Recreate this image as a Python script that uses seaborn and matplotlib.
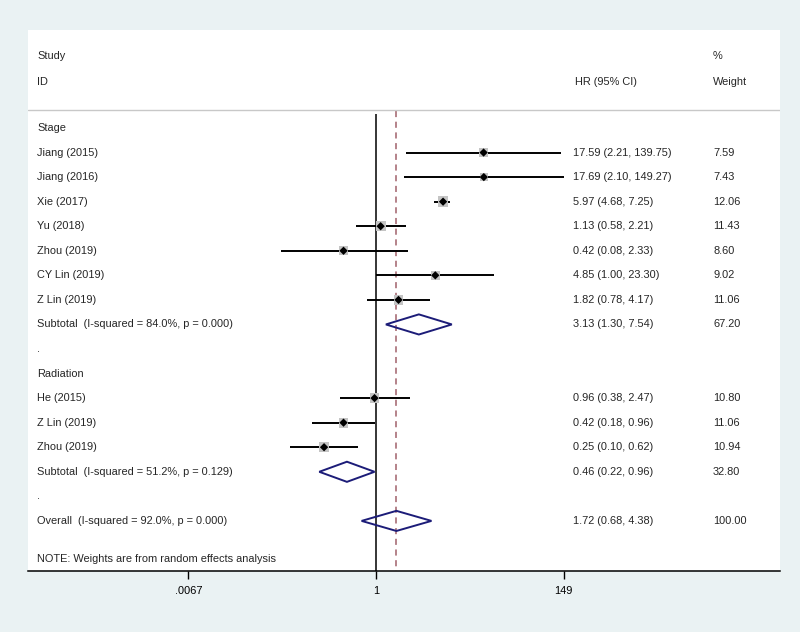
import matplotlib
matplotlib.use("Agg")
import matplotlib.pyplot as plt
import seaborn as sns
import numpy as np
import pandas as pd
from matplotlib.patches import Polygon

# ---- data ----
labels = ["Stage", "Jiang (2015)", "Jiang (2016)", "Xie (2017)", "Yu (2018)",
          "Zhou (2019)", "CY Lin (2019)", "Z Lin (2019)",
          "Subtotal  (I-squared = 84.0%, p = 0.000)", ".",
          "Radiation", "He (2015)", "Z Lin (2019)", "Zhou (2019)",
          "Subtotal  (I-squared = 51.2%, p = 0.129)", ".",
          "Overall  (I-squared = 92.0%, p = 0.000)"]
kind = ["head", "study", "study", "study", "study", "study", "study", "study",
        "pool", "blank", "head", "study", "study", "study", "pool", "blank", "pool"]
hr = [np.nan, 17.59, 17.69, 5.97, 1.13, 0.42, 4.85, 1.82, 3.13, np.nan,
      np.nan, 0.96, 0.42, 0.25, 0.46, np.nan, 1.72]
lo = [np.nan, 2.21, 2.10, 4.68, 0.58, 0.08, 1.00, 0.78, 1.30, np.nan,
      np.nan, 0.38, 0.18, 0.10, 0.22, np.nan, 0.68]
hi = [np.nan, 139.75, 149.27, 7.25, 2.21, 2.33, 23.30, 4.17, 7.54, np.nan,
      np.nan, 2.47, 0.96, 0.62, 0.96, np.nan, 4.38]
weight = [np.nan, 7.59, 7.43, 12.06, 11.43, 8.60, 9.02, 11.06, 67.20, np.nan,
          np.nan, 10.80, 11.06, 10.94, 32.80, np.nan, 100.00]
xticks = [0.0067, 1, 149]
xticklabels = [".0067", "1", "149"]
note = "NOTE: Weights are from random effects analysis"

df = pd.DataFrame({"label": labels, "kind": kind, "hr": hr, "lo": lo,
                   "hi": hi, "weight": weight})
df["row"] = np.arange(len(df))
studies = df[df.kind == "study"]
pools = df[df.kind == "pool"]
overall = df.iloc[-1]

sns.set_style("white")
plt.rcParams["font.family"] = ["Liberation Sans", "DejaVu Sans"]

fig = plt.figure(figsize=(8, 6.32), dpi=100, facecolor="#eaf2f3")
ax = fig.add_axes([28 / 800, 61 / 632, 752 / 800, 541 / 632])
ax.set_facecolor("white")
ax.set_xscale("log")
ax.set_xlim(np.exp(-9.28), np.exp(10.77))
ax.set_ylim(18.04, -3.99)

# reference lines
ax.vlines(1, -0.55, 18.04, color="black", lw=1.1, zorder=2)
ax.vlines(overall.hr, -0.7, 18.04, color="#a0606a", lw=1.1,
          linestyles=(0, (4, 3)), zorder=2)
ax.axhline(-0.73, color="#c8c8c8", lw=1.0)

# study CIs, weight boxes, point estimates
ax.hlines(studies.row, studies.lo, studies.hi, color="black", lw=1.4, zorder=3)
sns.scatterplot(data=studies, x="hr", y="row", size="weight",
                sizes=(4.6 * studies.weight.min(), 4.6 * studies.weight.max()),
                marker="s", color="#c4c4c4", edgecolor="none", legend=False,
                ax=ax, zorder=3)
sns.scatterplot(data=studies, x="hr", y="row", marker="D", s=18,
                color="black", edgecolor="none", legend=False, ax=ax, zorder=4)

# pooled diamonds
for _, r in pools.iterrows():
    ax.add_patch(Polygon([(r.lo, r.row), (r.hr, r.row - 0.41),
                          (r.hi, r.row), (r.hr, r.row + 0.41)],
                         closed=True, fill=False, edgecolor="#1c1c78",
                         lw=1.4, zorder=4))

# text columns
fs = 7.9
tr = ax.get_yaxis_transform()
ax.text(0.012, -2.93, "Study", transform=tr, fontsize=fs, va="center")
ax.text(0.012, -1.87, "ID", transform=tr, fontsize=fs, va="center")
ax.text(0.727, -1.87, "HR (95% CI)", transform=tr, fontsize=fs, va="center")
ax.text(0.911, -2.93, "%", transform=tr, fontsize=fs, va="center")
ax.text(0.911, -1.87, "Weight", transform=tr, fontsize=fs, va="center")
for _, r in df.iterrows():
    ax.text(0.012, r.row, r.label, transform=tr, fontsize=fs, va="center")
    if not np.isnan(r.hr):
        ax.text(0.7247, r.row, f"{r.hr:.2f} ({r.lo:.2f}, {r.hi:.2f})",
                transform=tr, fontsize=fs, va="center")
        ax.text(0.911, r.row, f"{r.weight:.2f}", transform=tr, fontsize=fs,
                va="center")
ax.text(0.012, 17.55, note, transform=tr, fontsize=fs, va="center")

# axes styling
for s in ["top", "left", "right"]:
    ax.spines[s].set_visible(False)
ax.spines["bottom"].set_color("black")
ax.spines["bottom"].set_linewidth(1.1)
ax.set_xticks(xticks)
ax.set_xticklabels(xticklabels, fontsize=fs)
ax.xaxis.set_minor_locator(matplotlib.ticker.NullLocator())
ax.tick_params(axis="x", direction="out", length=6, width=1, pad=5,
               bottom=True, colors="black")
ax.set_yticks([])
ax.set_xlabel("")
ax.set_ylabel("")

fig.savefig("out.png", dpi=100, facecolor=fig.get_facecolor())
